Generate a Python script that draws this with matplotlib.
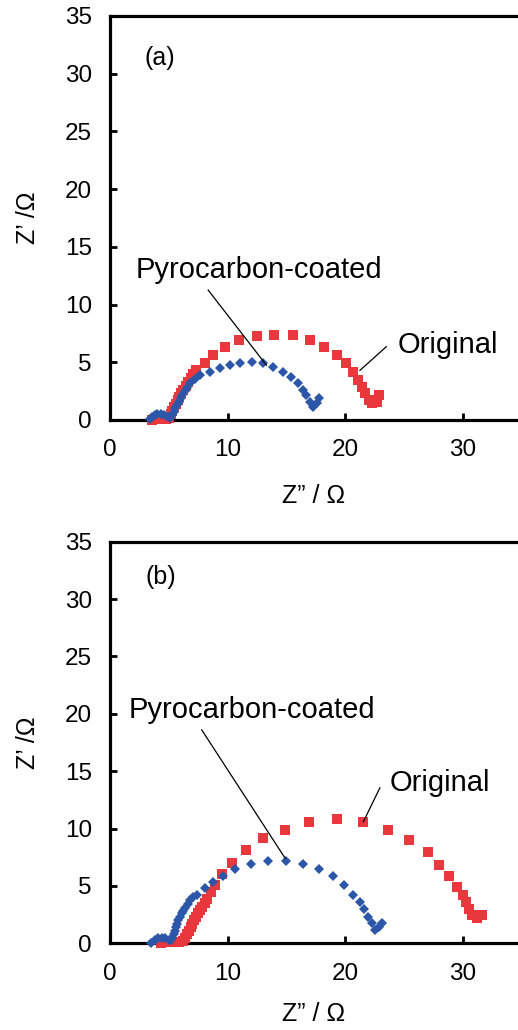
"""
Nyquist plots (a) and (b): Original vs Pyrocarbon-coated
"""

import matplotlib.pyplot as plt

plt.rcParams['font.family'] = ['Liberation Sans', 'DejaVu Sans']

# ---- data (a) ----
orig_a_x = [3.6, 3.9, 4.2, 4.5, 4.8, 5.0, 5.15, 5.3, 5.45, 5.6, 5.75, 5.9, 6.05, 6.25,
            6.45, 6.65, 6.9, 7.1, 7.35, 8.1, 8.8, 9.8, 11.0, 12.5, 13.95, 15.55, 17.0,
            18.2, 19.3, 20.1, 20.7, 21.1, 21.4, 21.7, 22.0, 22.3, 22.7, 22.9]
orig_a_y = [0.0, 0.1, 0.15, 0.1, 0.05, 0.2, 0.5, 0.8, 1.1, 1.4, 1.7, 2.0, 2.3, 2.6,
            2.95, 3.3, 3.6, 3.95, 4.3, 4.9, 5.6, 6.3, 6.9, 7.3, 7.4, 7.35, 6.9,
            6.35, 5.6, 4.9, 4.2, 3.5, 2.9, 2.3, 1.7, 1.45, 1.6, 2.15]
coat_a_x = [3.4, 3.6, 3.8, 4.0, 4.3, 4.6, 4.9, 5.1, 5.25, 5.4, 5.55, 5.7, 5.85, 6.0,
            6.15, 6.35, 6.55, 6.8, 7.2, 7.65, 8.5, 9.35, 10.2, 11.05, 12.05, 13.0,
            13.9, 14.7, 15.4, 16.0, 16.4, 16.7, 17.0, 17.3, 17.6, 17.8]
coat_a_y = [0.1, 0.3, 0.45, 0.5, 0.5, 0.4, 0.25, 0.2, 0.4, 0.7, 1.0, 1.3, 1.6, 1.9,
            2.2, 2.5, 2.8, 3.2, 3.55, 3.9, 4.2, 4.5, 4.75, 4.9, 5.0, 4.9,
            4.55, 4.2, 3.75, 3.2, 2.6, 2.2, 1.6, 1.1, 1.5, 1.9]

# ---- data (b) ----
orig_b_x = [4.3, 4.7, 5.1, 5.5, 5.9, 6.2, 6.4, 6.55, 6.7, 6.85, 7.0, 7.15, 7.3, 7.45,
            7.65, 7.85, 8.05, 8.25, 8.6, 8.95, 9.5, 10.4, 11.6, 13.0, 14.9, 16.95,
            19.3, 21.55, 23.65, 25.45, 27.0, 28.0, 28.8, 29.5, 30.0, 30.3, 30.5,
            30.75, 31.2, 31.6]
orig_b_y = [0.0, 0.1, 0.15, 0.1, 0.1, 0.2, 0.5, 0.8, 1.1, 1.4, 1.7, 2.0, 2.3, 2.6,
            2.9, 3.2, 3.55, 3.9, 4.5, 5.1, 6.0, 7.0, 8.15, 9.15, 9.9, 10.6,
            10.8, 10.6, 9.9, 9.0, 8.0, 6.85, 5.9, 4.95, 4.2, 3.6, 3.0,
            2.5, 2.2, 2.5]
coat_b_x = [3.5, 3.8, 4.1, 4.4, 4.7, 5.0, 5.2, 5.3, 5.4, 5.5, 5.6, 5.7, 5.8, 5.95,
            6.1, 6.25, 6.4, 6.6, 6.8, 7.1, 7.4, 8.1, 8.8, 9.6, 10.6, 12.0, 13.45,
            14.95, 16.45, 17.8, 19.0, 19.9, 20.7, 21.25, 21.6, 21.9, 22.25, 22.55,
            22.9, 23.1]
coat_b_y = [0.05, 0.3, 0.45, 0.5, 0.45, 0.3, 0.25, 0.5, 0.8, 1.1, 1.4, 1.7, 2.0, 2.3,
            2.6, 2.85, 3.1, 3.45, 3.8, 4.0, 4.2, 4.8, 5.3, 5.9, 6.45, 6.9, 7.2,
            7.2, 6.9, 6.45, 5.9, 5.1, 4.2, 3.6, 3.0, 2.3, 1.75, 1.15,
            1.45, 1.75]

x_ticks = [0, 10, 20, 30]
y_ticks = [0, 5, 10, 15, 20, 25, 30, 35]

RED = '#e8383d'
BLUE = '#2c56a8'

W, H = 518, 1030
fig = plt.figure(figsize=(W / 100, H / 100), dpi=100)

ax_a = fig.add_axes([110 / W, 610 / H, 411.6 / W, 404 / H])
ax_b = fig.add_axes([110 / W, 86.7 / H, 411.6 / W, 401.6 / H])

panels = [
    (ax_a, orig_a_x, orig_a_y, coat_a_x, coat_a_y, '(a)',
     (4.2, 31.4), (12.7, 13.0), ((8.35, 11.25), (13.3, 4.75)),
     (24.5, 6.5), ((23.5, 6.35), (21.25, 4.3)), -0.158),
    (ax_b, orig_b_x, orig_b_y, coat_b_x, coat_b_y, '(b)',
     (4.3, 31.9), (12.1, 20.3), ((7.8, 18.6), (14.9, 7.4)),
     (23.8, 14.0), ((22.95, 13.55), (21.55, 10.6)), -0.145),
]

for (ax, ox, oy, cx, cy, tag, tag_pos, pyro_pos, pyro_line,
     orig_pos, orig_line, xlab_y) in panels:
    ax.plot(ox, oy, linestyle='none', marker='s', markersize=7,
            color=RED, markeredgewidth=0, clip_on=False, zorder=3)
    ax.plot(cx, cy, linestyle='none', marker='D', markersize=5.2,
            color=BLUE, markeredgewidth=0, clip_on=False, zorder=4)

    ax.set_xlim(0, 35)
    ax.set_ylim(0, 35)
    ax.set_xticks(x_ticks)
    ax.set_yticks(y_ticks)
    ax.tick_params(direction='in', length=5, width=2, labelsize=17.5)
    ax.tick_params(axis='x', pad=14)
    ax.tick_params(axis='y', pad=13)
    for sp in ax.spines.values():
        sp.set_linewidth(2.3)

    ax.set_xlabel('Z\u201d / \u03a9', fontsize=18)
    ax.set_ylabel('Z\u2019 /\u03a9', fontsize=18)
    ax.xaxis.set_label_coords(0.494, xlab_y)
    ax.yaxis.set_label_coords(-0.17, 0.5)

    ax.text(tag_pos[0], tag_pos[1], tag, fontsize=18, ha='center', va='center')

    # labels with leader lines
    ax.text(pyro_pos[0], pyro_pos[1], 'Pyrocarbon-coated', fontsize=21,
            ha='center', va='center')
    ax.plot([pyro_line[0][0], pyro_line[1][0]], [pyro_line[0][1], pyro_line[1][1]],
            color='black', lw=0.9, zorder=5)
    ax.text(orig_pos[0], orig_pos[1], 'Original', fontsize=21,
            ha='left', va='center')
    ax.plot([orig_line[0][0], orig_line[1][0]], [orig_line[0][1], orig_line[1][1]],
            color='black', lw=0.9, zorder=5)

fig.savefig('out.png', dpi=100, facecolor='white')
